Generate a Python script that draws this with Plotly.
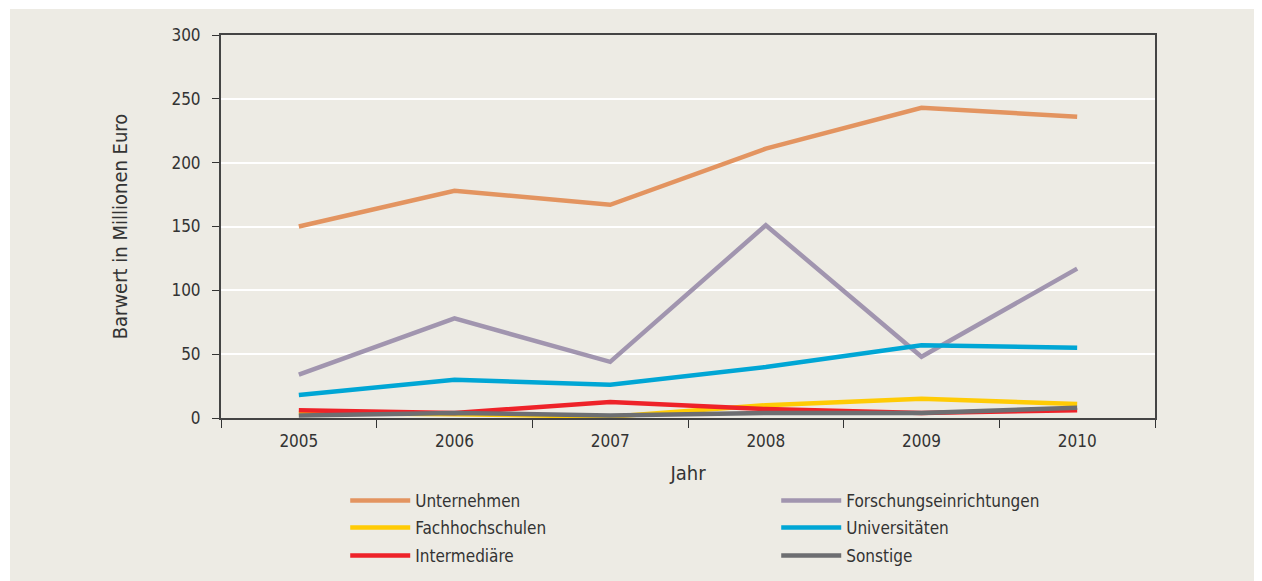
import plotly.graph_objects as go

# Daten
jahre = ["2005", "2006", "2007", "2008", "2009", "2010"]

unternehmen = [150, 178, 167, 211, 243, 236]
forschung = [34, 78, 44, 151, 48, 117]
fachhochschulen = [4, 3, 1, 10, 15, 11]
universitaeten = [18, 30, 26, 40, 57, 55]
intermediaere = [6, 4, 12.5, 7, 4, 6]
sonstige = [2, 4, 2, 4, 4, 8]

y_ticks = [0, 50, 100, 150, 200, 250, 300]

# (Name, Werte, Farbe, Legendenzeile)
serien = [
    ("Unternehmen", unternehmen, "#E39460", "legend"),
    ("Forschungseinrichtungen", forschung, "#A195AF", "legend"),
    ("Fachhochschulen", fachhochschulen, "#FFCB05", "legend2"),
    ("Universitäten", universitaeten, "#00A6D5", "legend2"),
    ("Intermediäre", intermediaere, "#EE2229", "legend3"),
    ("Sonstige", sonstige, "#6D6E71", "legend3"),
]

schrift = "DejaVu Sans Condensed, Liberation Sans Narrow, Arial Narrow, sans-serif"
beige = "#EDEBE4"

fig = go.Figure()

for name, werte, farbe, leg in serien:
    fig.add_trace(go.Scatter(
        x=jahre,
        y=werte,
        mode="lines",
        name=name,
        legend=leg,
        line=dict(color=farbe, width=4.5),
    ))

# Hintergrund (weisser Rand oben/links)
fig.add_shape(
    type="rect", xref="paper", yref="paper", layer="below",
    x0=-0.2259, x1=1.2, y0=-0.5, y1=1.068,
    fillcolor=beige, line=dict(width=0),
)


def zeile(y):
    return dict(
        orientation="h",
        x=0.133, xanchor="left",
        y=y, yanchor="middle",
        entrywidth=356, entrywidthmode="pixels",
        itemwidth=60,
        bgcolor="rgba(0,0,0,0)",
        font=dict(size=17),
        traceorder="normal",
    )


# Zeilenmitte in Pixeln (Plotbereich 27..410 bei Figurhöhe 573)
fig.update_layout(
    width=1254,
    height=573,
    margin=dict(l=213, r=107, t=27, b=163, autoexpand=False),
    paper_bgcolor="white",
    plot_bgcolor="rgba(0,0,0,0)",
    font=dict(family=schrift, size=17, color="#333333"),
    showlegend=True,
    legend=zeile((410 - 493) / 383),
    legend2=zeile((410 - 520) / 383),
    legend3=zeile((410 - 548) / 383),
    xaxis=dict(
        type="category",
        range=[-0.5, 5.5],
        tickson="boundaries",
        ticks="outside",
        ticklen=8,
        tickcolor="#333333",
        ticklabelstandoff=7,
        showline=True,
        linecolor="#444444",
        linewidth=2,
        mirror=True,
        showgrid=False,
        title=dict(text="Jahr", standoff=16),
    ),
    yaxis=dict(
        range=[0, 300],
        tickvals=y_ticks,
        ticks="outside",
        ticklen=7,
        tickcolor="#333333",
        ticklabelstandoff=8,
        showline=True,
        linecolor="#444444",
        linewidth=2,
        mirror=True,
        showgrid=True,
        gridcolor="white",
        gridwidth=2,
        zeroline=False,
        title=dict(text="Barwert in Millionen Euro", standoff=38),
    ),
)

fig.write_html("out.html")
